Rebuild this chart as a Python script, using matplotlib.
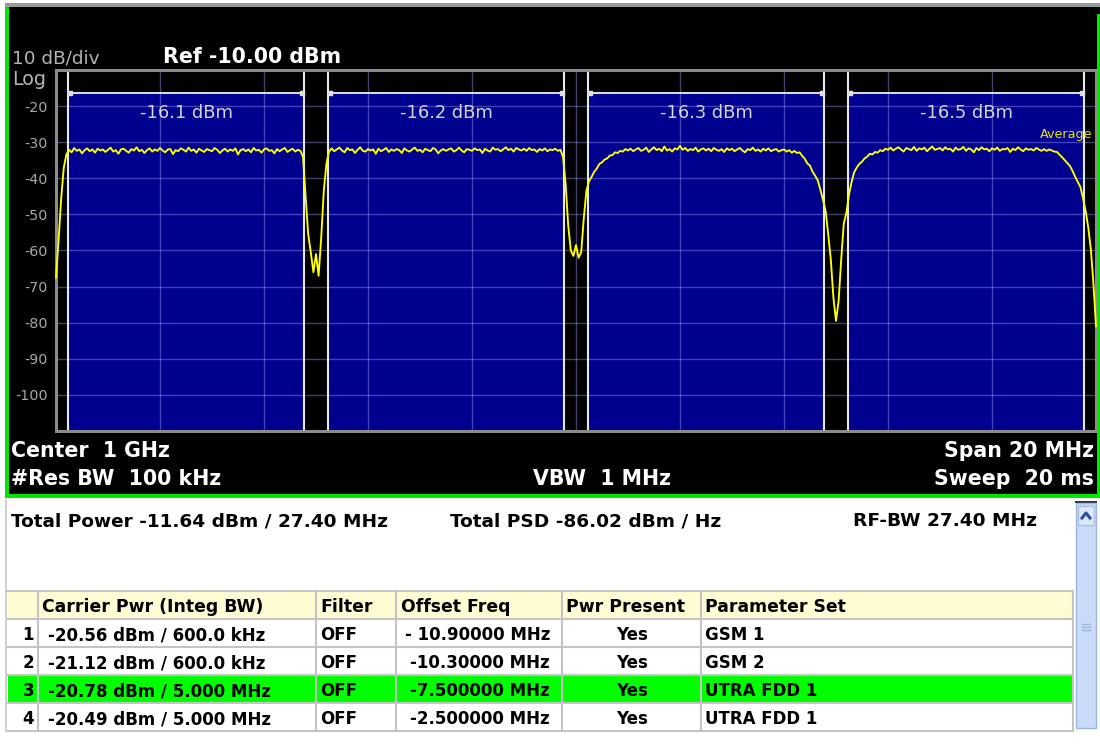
import numpy as np
import matplotlib
matplotlib.use("Agg")
import matplotlib.pyplot as plt
from matplotlib.patches import Rectangle
from matplotlib.lines import Line2D

# ---------------------------------------------------------------- data
span_start_mhz = -10.0
span_stop_mhz = 10.0
ref_level_dbm = -10.0
bottom_level_dbm = -110.0

y_tick_values = [-20, -30, -40, -50, -60, -70, -80, -90, -100]
y_tick_labels = ["-20", "-30", "-40", "-50", "-60", "-70", "-80", "-90", "-100"]
x_grid_mhz = [-8, -6, -4, -2, 0, 2, 4, 6, 8]

# integration bands of the four carriers (offset from centre, MHz)
band_centers_mhz = [-7.5, -2.5, 2.5, 7.5]
band_width_mhz = 4.54
band_top_dbm = -16.5
band_power_labels = ["-16.1 dBm", "-16.2 dBm", "-16.3 dBm", "-16.5 dBm"]

# averaged trace, one sample every 50 kHz from -10 MHz to +10 MHz
trace_dbm = [
    -67.5, -57.0, -45.5, -37.0, -33.4, -32.1, -32.8, -31.6, -32.4, -32.0, -33.1, -32.2, -31.7, -32.5, -32.0, -32.9, -31.8, -32.3, -32.0, -32.7,
    -32.1, -31.5, -32.6, -32.2, -33.2, -32.0, -31.8, -32.4, -32.9, -31.9, -32.3, -31.4, -32.5, -32.1, -33.0, -32.2, -31.7, -32.6, -32.0, -32.4,
    -31.6, -32.3, -32.8, -32.0, -31.9, -33.3, -32.2, -32.5, -31.7, -32.1, -32.6, -31.5, -32.4, -32.0, -32.9, -31.8, -32.3, -32.7, -31.9, -32.2,
    -32.5, -31.6, -32.1, -33.0, -32.3, -31.8, -32.6, -32.0, -32.4, -31.7, -33.4, -32.2, -31.9, -32.5, -32.0, -32.8, -31.6, -32.3, -32.1, -32.9,
    -32.0, -31.7, -32.4, -32.2, -33.1, -31.9, -32.5, -32.0, -31.6, -32.7, -32.2, -31.8, -32.6, -32.1, -32.4, -34.0, -45.0, -55.5, -60.5, -66.0,
    -61.0, -67.0, -56.5, -43.5, -36.0, -32.6, -31.7, -32.5, -32.0, -31.5, -32.3, -32.8, -31.6, -32.2, -32.0, -33.0, -32.1, -31.4, -32.4, -32.6,
    -31.9, -32.3, -32.0, -33.2, -31.8, -32.5, -32.1, -31.6, -32.7, -32.0, -32.4, -31.9, -32.2, -33.0, -31.7, -32.3, -32.6, -32.0, -31.5, -32.4,
    -32.1, -32.8, -31.8, -32.2, -32.5, -31.6, -32.0, -33.1, -32.3, -31.9, -32.4, -32.0, -31.7, -32.6, -32.2, -31.5, -32.3, -32.8, -31.9, -32.1,
    -32.4, -31.7, -32.2, -32.0, -33.0, -31.8, -32.3, -32.6, -31.5, -32.1, -31.9, -32.5, -32.0, -31.4, -32.2, -31.8, -32.6, -31.6, -32.0, -32.3,
    -31.8, -32.4, -31.6, -32.2, -32.0, -32.7, -31.9, -32.3, -31.7, -32.5, -32.0, -32.2, -31.8, -32.4, -32.1, -34.0, -41.5, -53.0, -60.0, -61.5,
    -58.5, -62.0, -60.5, -51.0, -43.5, -40.8, -39.6, -38.2, -37.3, -36.0, -35.6, -34.8, -34.5, -33.7, -33.6, -32.8, -33.0, -32.4, -32.6, -31.9,
    -32.3, -31.8, -32.5, -32.0, -31.6, -32.4, -32.1, -31.5, -32.7, -32.0, -31.4, -32.2, -31.8, -32.5, -31.2, -32.3, -31.9, -32.6, -31.7, -32.0,
    -31.0, -32.1, -31.6, -32.4, -31.9, -32.2, -31.5, -32.6, -32.0, -31.7, -32.3, -31.8, -32.5, -31.6, -32.1, -32.4, -31.9, -32.7, -31.7, -32.2,
    -31.8, -32.5, -32.0, -31.6, -32.3, -32.8, -31.9, -32.2, -31.5, -32.4, -32.0, -32.6, -31.8, -32.3, -31.7, -32.5, -32.1, -31.9, -32.6, -32.2,
    -32.0, -32.6, -32.2, -32.9, -32.4, -33.0, -32.8, -33.8, -34.6, -35.9, -36.5, -38.2, -39.3, -40.6, -43.2, -46.0, -49.0, -55.5, -62.5, -73.0,
    -79.5, -74.0, -62.5, -52.5, -49.5, -44.5, -41.0, -38.3, -37.0, -36.0, -35.4, -34.5, -34.0, -33.2, -33.4, -32.7, -32.9, -32.2, -32.5, -31.8,
    -32.1, -31.5, -32.3, -31.8, -31.4, -32.0, -32.6, -31.6, -31.9, -32.2, -31.3, -32.4, -31.7, -32.0, -31.5, -32.5, -31.8, -31.2, -32.1, -31.9,
    -31.6, -32.3, -31.4, -32.0, -31.8, -32.6, -31.5, -32.1, -31.9, -31.3, -32.4, -31.7, -32.0, -32.8, -31.6, -32.2, -31.4, -32.0, -31.8, -32.5,
    -31.7, -32.1, -31.5, -32.4, -31.9, -32.0, -31.6, -32.7, -31.8, -32.2, -31.4, -32.0, -32.5, -31.7, -32.1, -31.9, -32.3, -31.6, -32.0, -32.4,
    -31.9, -32.4, -32.0, -32.3, -32.6, -32.7, -33.5, -34.2, -35.0, -35.8, -36.6, -38.0, -39.6, -41.0, -42.4, -45.5, -49.0, -53.5, -59.5, -69.0,
    -81.0,
]

scale_label = "10 dB/div"
scale_type = "Log"
ref_label = "Ref -10.00 dBm"
center_label = "Center  1 GHz"
rbw_label = "#Res BW  100 kHz"
vbw_label = "VBW  1 MHz"
span_label = "Span 20 MHz"
sweep_label = "Sweep  20 ms"
trace_mode = "Average"

total_power = "Total Power -11.64 dBm / 27.40 MHz"
total_psd = "Total PSD -86.02 dBm / Hz"
rf_bw = "RF-BW 27.40 MHz"

table_header = ["Carrier Pwr (Integ BW)", "Filter", "Offset Freq", "Pwr Present", "Parameter Set"]
row_index = ["1", "2", "3", "4"]
carrier_pwr = ["-20.56 dBm / 600.0 kHz", "-21.12 dBm / 600.0 kHz",
               "-20.78 dBm / 5.000 MHz", "-20.49 dBm / 5.000 MHz"]
filter_state = ["OFF", "OFF", "OFF", "OFF"]
offset_freq = ["- 10.90000 MHz", "-10.30000 MHz", "-7.500000 MHz", "-2.500000 MHz"]
pwr_present = ["Yes", "Yes", "Yes", "Yes"]
parameter_set = ["GSM 1", "GSM 2", "UTRA FDD 1", "UTRA FDD 1"]
selected_row = 2

# ---------------------------------------------------------------- figure
W, H = 1100, 748
plt.rcParams["font.family"] = ["DejaVu Sans"]
fig = plt.figure(figsize=(W / 100, H / 100), dpi=100, facecolor="white")

# full-window canvas in pixel units (y grows downwards)
bg = fig.add_axes([0, 0, 1, 1], zorder=0)
bg.set_xlim(0, W)
bg.set_ylim(H, 0)
bg.axis("off")


def rect(x0, y0, x1, y1, **kw):
    bg.add_patch(Rectangle((x0, y0), x1 - x0, y1 - y0, **kw))


GREEN = "#00E600"
# instrument screen
rect(5, 2.5, W, 7, facecolor="#9A9A9A", edgecolor="none")
rect(5, 7, W, 498, facecolor="black", edgecolor="none")
rect(5, 7, 9, 498, facecolor=GREEN, edgecolor="none")
rect(5, 494, W, 498, facecolor=GREEN, edgecolor="none")
rect(1097, 14, W, 498, facecolor=GREEN, edgecolor="none")

bg.text(12, 63, scale_label, color="#B4B4B4", fontsize=13.3, va="baseline")
bg.text(12, 85, scale_type, color="#B4B4B4", fontsize=13.8, va="baseline")
bg.text(163, 63, ref_label, color="white", fontsize=14.8, fontweight="bold", va="baseline")

bg.text(11, 457, center_label, color="white", fontsize=14.8, fontweight="bold", va="baseline")
bg.text(11, 485, rbw_label, color="white", fontsize=14.8, fontweight="bold", va="baseline")
bg.text(533, 485, vbw_label, color="white", fontsize=14.8, fontweight="bold", va="baseline")
bg.text(1094, 457, span_label, color="white", fontsize=14.8, fontweight="bold", va="baseline", ha="right")
bg.text(1094, 485, sweep_label, color="white", fontsize=14.8, fontweight="bold", va="baseline", ha="right")

# ---------------------------------------------------------------- spectrum
ax_l, ax_r, ax_t, ax_b = 56, 1096, 70, 431
ax = fig.add_axes([ax_l / W, 1 - ax_b / H, (ax_r - ax_l) / W, (ax_b - ax_t) / H], zorder=2)
ax.set_facecolor("black")
ax.set_xlim(span_start_mhz, span_stop_mhz)
ax.set_ylim(bottom_level_dbm, ref_level_dbm)
for s in ax.spines.values():
    s.set_color("#8C8C8C")
    s.set_linewidth(2.2)

ax.set_yticks(y_tick_values)
ax.set_yticklabels(y_tick_labels)
ax.set_xticks(x_grid_mhz)
ax.set_xticklabels([])
ax.tick_params(axis="both", length=0)
ax.tick_params(axis="y", labelcolor="#A8A8A8", labelsize=10.3, pad=6)
ax.set_axisbelow("line")
ax.grid(True, color="#9A9AFF", alpha=0.42, linewidth=1.0)

# integration bands
ax.bar(band_centers_mhz, [band_top_dbm - bottom_level_dbm] * len(band_centers_mhz),
       width=band_width_mhz, bottom=bottom_level_dbm, color="#00008E", zorder=1)
for c, lab in zip(band_centers_mhz, band_power_labels):
    lo, hi = c - band_width_mhz / 2, c + band_width_mhz / 2
    for edge in (lo, hi):
        ax.axvline(edge, color="#E8E8E8", linewidth=1.5, zorder=1.8)
    ax.plot([lo + 0.03, hi - 0.03], [band_top_dbm, band_top_dbm], color="#E0E0E0",
            linewidth=1.4, marker="s", markersize=2.6, zorder=1.9)
    ax.text(c, -21.8, lab, color="#D4D4D4", fontsize=12.9, ha="center", va="center", zorder=2.5)

freq_mhz = np.linspace(span_start_mhz, span_stop_mhz, len(trace_dbm))
ax.plot(freq_mhz, trace_dbm, color="#FFFF00", linewidth=1.35, zorder=3, clip_on=False)
ax.text(8.93, -28.0, trace_mode, color="#E6E600", fontsize=9.2, va="center", ha="left", zorder=3)

# ---------------------------------------------------------------- results panel
bg.plot([6, 6], [500, 731], color="#C8C8C8", linewidth=1.2)
bg.text(11, 526, total_power, color="black", fontsize=13.3, fontweight="bold", va="baseline")
bg.text(450, 526, total_psd, color="black", fontsize=13.3, fontweight="bold", va="baseline")
bg.text(853, 526, rf_bw, color="black", fontsize=13.3, fontweight="bold", va="baseline")

col_edges = [8, 38, 316, 396, 562, 701, 1073]
header_top, row_h = 591, 28
n_rows = len(row_index)
table_bottom = header_top + row_h * (n_rows + 1)

rect(col_edges[0], header_top, col_edges[-1], header_top + row_h, facecolor="#FFFBD2", edgecolor="none")
sel_top = header_top + row_h * (selected_row + 1)
rect(col_edges[0], sel_top, col_edges[-1], sel_top + row_h, facecolor="#00FF00", edgecolor="none")

bg.plot([6, col_edges[-1]], [header_top - 0.5, header_top - 0.5], color="#C8C8C8", linewidth=1.5)
for i in range(1, n_rows + 2):
    yy = header_top + row_h * i
    bg.plot([col_edges[0], col_edges[-1]], [yy, yy], color="#C4C4C4", linewidth=1.5)
for xx in col_edges[1:]:
    bg.plot([xx, xx], [header_top, table_bottom], color="#C4C4C4", linewidth=1.5)

tfs = 12.0
hdr_x = [42, 320, 401, 566, 705]
for x, lab in zip(hdr_x, table_header):
    bg.text(x, header_top + 21, lab, fontsize=12.4, fontweight="bold", va="baseline")

for i in range(n_rows):
    yb = header_top + row_h * (i + 1) + 21
    kw = dict(fontsize=tfs, fontweight="bold", va="baseline", color="black")
    bg.text(34, yb, row_index[i], ha="right", **kw)
    bg.text(48, yb, carrier_pwr[i], ha="left", **kw)
    bg.text(320, yb, filter_state[i], ha="left", **kw)
    bg.text(550, yb, offset_freq[i], ha="right", **kw)
    bg.text(632, yb, pwr_present[i], ha="center", **kw)
    bg.text(705, yb, parameter_set[i], ha="left", **kw)

# scroll bar
rect(1075, 501, 1097, 503, facecolor="#303030", edgecolor="none")
rect(1076, 503, 1096, 728, facecolor="#C9DBF6", edgecolor="#9DB6E0", linewidth=1)
rect(1078, 506, 1094, 525, facecolor="#DCE8FA", edgecolor="#A8C0E6", linewidth=1)
bg.add_line(Line2D([1082, 1086, 1090], [518, 513, 518], color="#2A5298", linewidth=2.2))
for gy in (624, 627, 630):
    bg.add_line(Line2D([1082, 1090], [gy, gy], color="#9AB4DC", linewidth=1))

fig.savefig("out.png", dpi=100, facecolor="white")
